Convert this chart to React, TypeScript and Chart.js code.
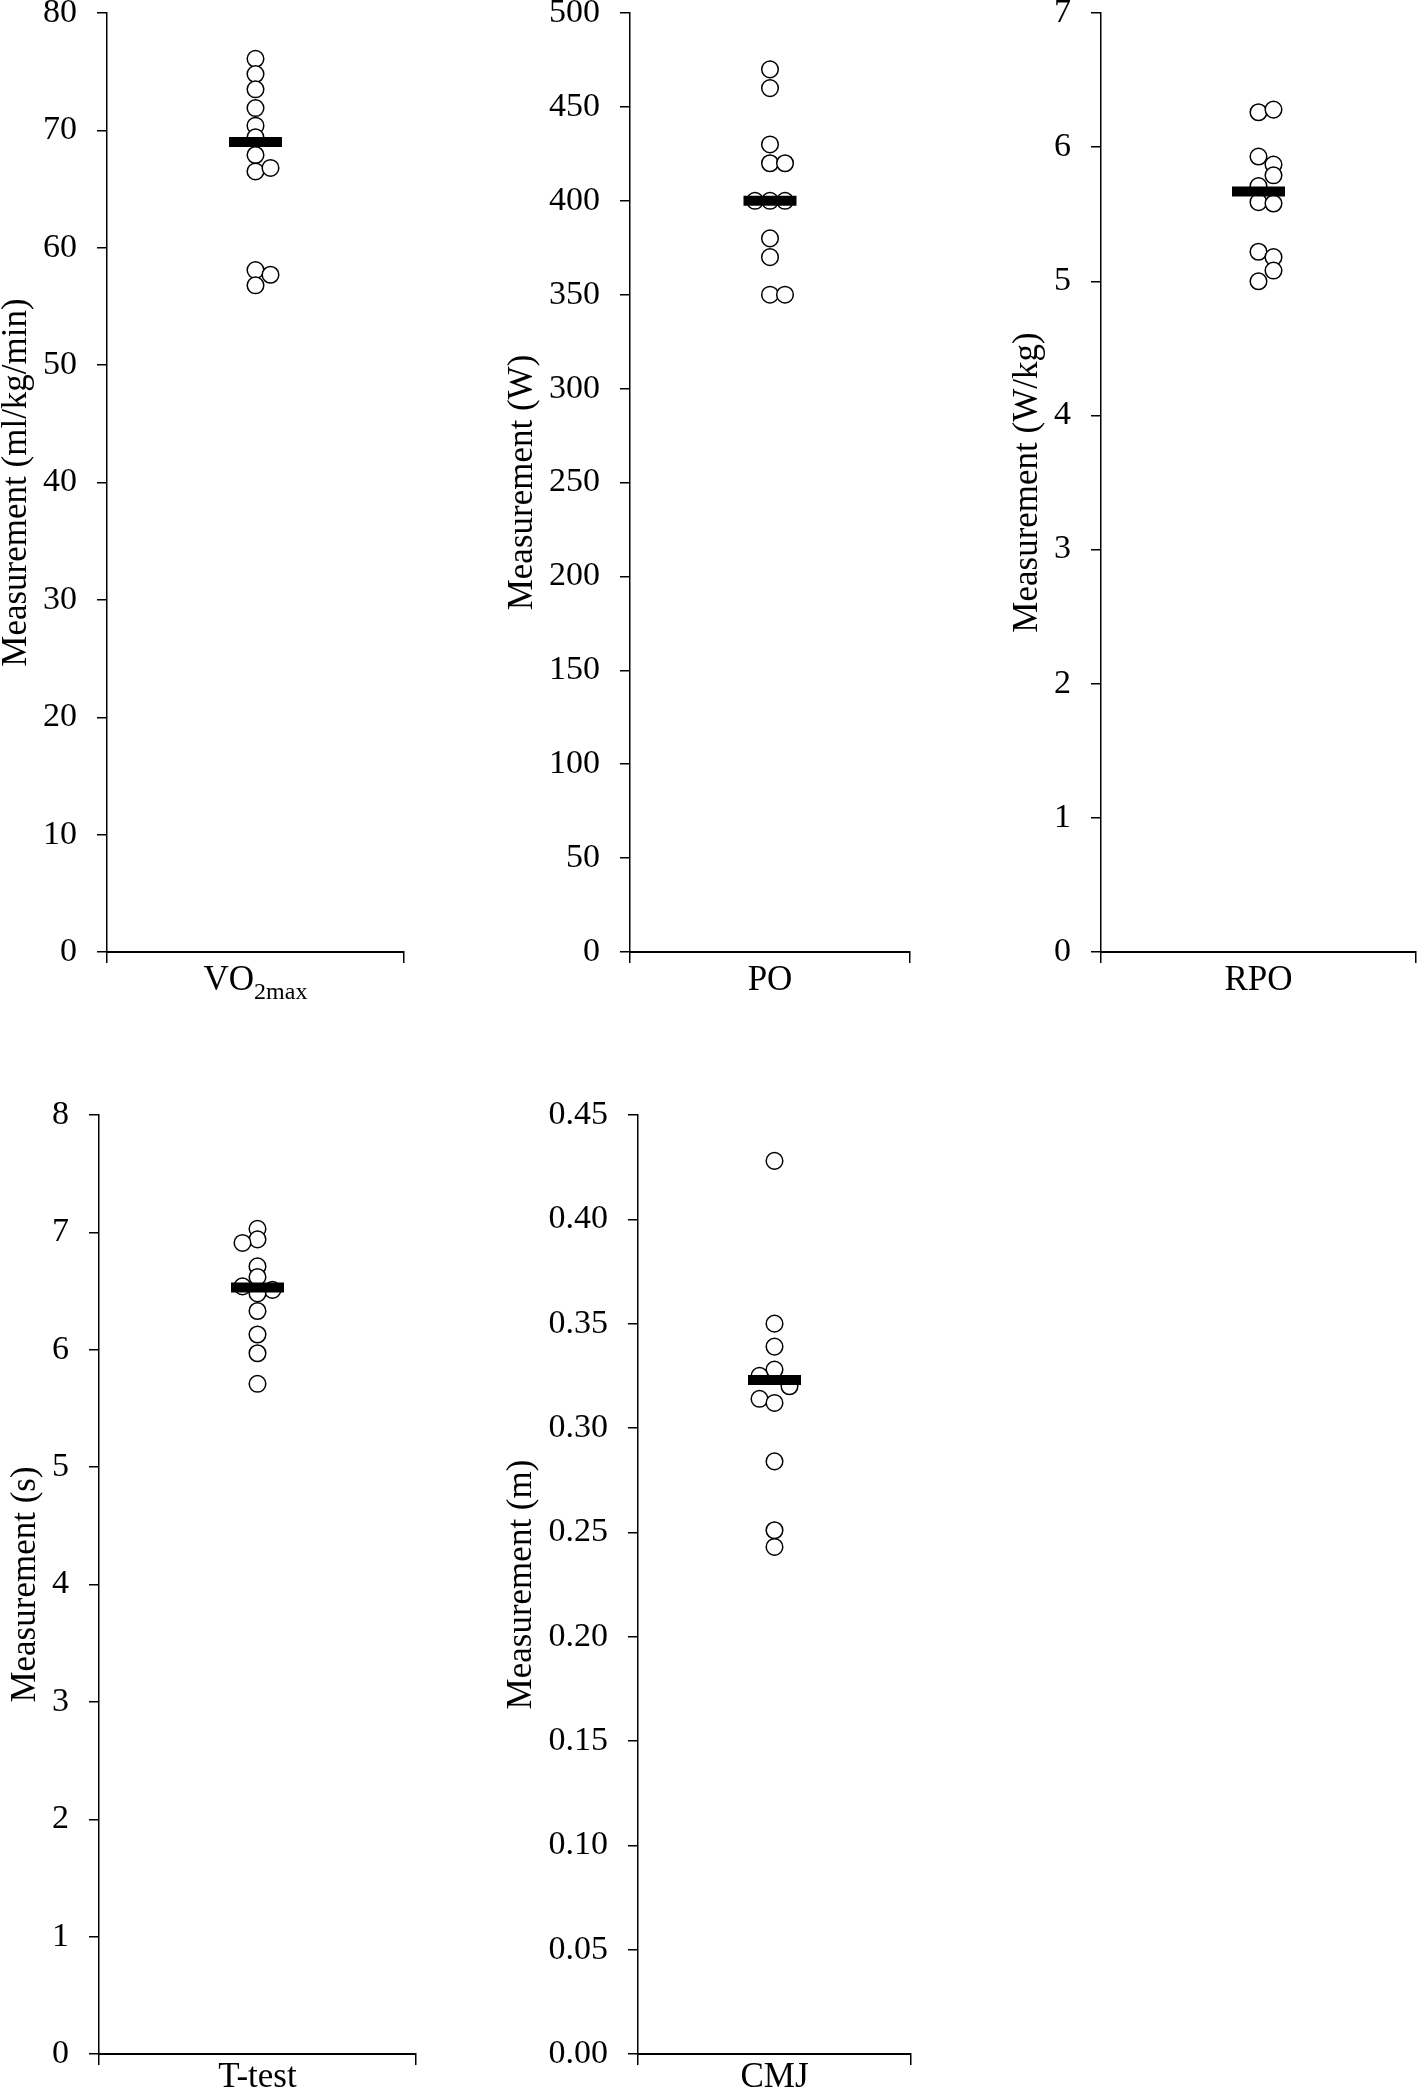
import React, { useEffect, useRef } from 'react';
import { Chart, registerables } from 'chart.js';

Chart.register(...registerables);

// ---------------- data ----------------
const categories = ['VO2max', 'PO', 'RPO', 'T-test', 'CMJ'];
const yTitles = [
  'Measurement (ml/kg/min)',
  'Measurement (W)',
  'Measurement (W/kg)',
  'Measurement (s)',
  'Measurement (m)',
];
const yMaxValues = [80, 500, 7, 8, 0.45];
const yStepValues = [10, 50, 1, 1, 0.05];
const yDecimals = [0, 0, 0, 0, 2];

const vo2Values = [76.1, 74.8, 73.5, 71.9, 70.4, 69.4, 67.9, 66.5, 66.8, 58.1, 57.7, 56.8];
const vo2Cols = [0, 0, 0, 0, 0, 0, 0, 0, 1, 0, 1, 0];
const vo2Mean = 69.0;

const poValues = [470, 460, 430, 420, 420, 400, 400, 400, 380, 370, 350, 350];
const poCols = [0, 0, 0, 0, 1, -1, 0, 1, 0, 0, 0, 1];
const poMean = 400;

const rpoValues = [6.26, 6.28, 5.93, 5.87, 5.79, 5.71, 5.59, 5.58, 5.22, 5.18, 5.08, 5.0];
const rpoCols = [0, 1, 0, 1, 1, 0, 0, 1, 0, 1, 1, 0];
const rpoMean = 5.67;

const tTestValues = [7.03, 6.94, 6.91, 6.71, 6.62, 6.54, 6.51, 6.48, 6.33, 6.13, 5.97, 5.71];
const tTestCols = [0, 0, -1, 0, 0, -1, 1, 0, 0, 0, 0, 0];
const tTestMean = 6.53;

const cmjValues = [0.428, 0.35, 0.339, 0.328, 0.325, 0.32, 0.314, 0.312, 0.284, 0.251, 0.243];
const cmjCols = [0, 0, 0, 0, -1, 1, -1, 0, 0, 0, 0];
const cmjMean = 0.323;

const seriesValues = [vo2Values, poValues, rpoValues, tTestValues, cmjValues];
const seriesCols = [vo2Cols, poCols, rpoCols, tTestCols, cmjCols];
const seriesMeans = [vo2Mean, poMean, rpoMean, tTestMean, cmjMean];

// ---------------- layout / style ----------------
const FONT = '"Liberation Serif", "Times New Roman", serif';
const panelLayout = [
  { axisX: 107, right: 404, top: 13, bottom: 952, titleX: 17, xPad: 0 },
  { axisX: 630, right: 910, top: 13, bottom: 952, titleX: 523, xPad: 0 },
  { axisX: 1101, right: 1416, top: 13, bottom: 952, titleX: 1028, xPad: 0 },
  { axisX: 99, right: 416, top: 1115, bottom: 2054, titleX: 26, xPad: -5 },
  { axisX: 638, right: 911, top: 1115, bottom: 2054, titleX: 522, xPad: -5 },
];
const PAD_TOP = 24;
const PAD_RIGHT = 8;
const X_AXIS_H = 70;
const TITLE_SIZE = 35;
const TICK_SIZE = 34;
const CAT_SIZE = 35;
const JITTER_PX = 15;
const MEAN_HALF_PX = 26.5;

function Panel({ idx }: { idx: number }) {
  const ref = useRef<HTMLCanvasElement | null>(null);
  const L = panelLayout[idx];
  const canvasLeft = L.titleX - 24;
  const canvasTop = L.top - PAD_TOP;
  const width = L.right + PAD_RIGHT - canvasLeft;
  const height = L.bottom + X_AXIS_H - canvasTop;
  const yAxisWidth = L.axisX - canvasLeft;

  useEffect(() => {
    if (!ref.current) return;
    const pxPerUnit = (L.right - L.axisX) / 2;
    const jit = JITTER_PX / pxPerUnit;
    const values = seriesValues[idx];
    const cols = seriesCols[idx];
    const isSub = categories[idx] === 'VO2max';

    const subLabelPlugin = {
      id: 'subLabel',
      afterDraw(chart: any) {
        if (!isSub) return;
        const ctx = chart.ctx;
        const xs = chart.scales.x;
        const cx = xs.getPixelForValue(1);
        const baseY = xs.top + 38;
        ctx.save();
        ctx.fillStyle = '#000';
        ctx.textBaseline = 'alphabetic';
        ctx.textAlign = 'left';
        ctx.font = `${CAT_SIZE}px ${FONT}`;
        const w1 = ctx.measureText('VO').width;
        ctx.font = `24px ${FONT}`;
        const w2 = ctx.measureText('2max').width;
        const x0 = cx - (w1 + w2) / 2;
        ctx.font = `${CAT_SIZE}px ${FONT}`;
        ctx.fillText('VO', x0, baseY);
        ctx.font = `24px ${FONT}`;
        ctx.fillText('2max', x0 + w1, baseY + 9);
        ctx.restore();
      },
    };

    const chart = new Chart(ref.current, {
      type: 'scatter',
      data: {
        datasets: [
          {
            label: 'mean',
            data: [{ x: 1, y: seriesMeans[idx] }],
            pointStyle: 'line',
            pointRadius: MEAN_HALF_PX,
            borderWidth: 10,
            borderColor: '#000',
            backgroundColor: '#000',
            order: 1,
          } as any,
          {
            label: categories[idx],
            data: values.map((v, i) => ({ x: 1 + cols[i] * jit, y: v })),
            pointStyle: 'circle',
            pointRadius: 8.3,
            borderWidth: 1.5,
            borderColor: '#000',
            backgroundColor: '#fff',
            order: 2,
          } as any,
        ],
      },
      options: {
        responsive: false,
        animation: false,
        events: [],
        layout: {
          autoPadding: false,
          padding: { top: PAD_TOP, right: PAD_RIGHT, left: 0, bottom: 0 },
        },
        plugins: { legend: { display: false }, tooltip: { enabled: false } },
        scales: {
          x: {
            type: 'linear',
            min: 0,
            max: 2,
            afterFit: (s: any) => {
              s.height = X_AXIS_H;
              s.paddingLeft = 0;
              s.paddingRight = 0;
            },
            ticks: {
              stepSize: 1,
              autoSkip: false,
              maxRotation: 0,
              color: '#000',
              padding: L.xPad,
              font: { family: FONT, size: CAT_SIZE, lineHeight: 1 },
              callback: (v: any) => (v === 1 && !isSub ? categories[idx] : ''),
            },
            grid: {
              drawOnChartArea: false,
              drawTicks: true,
              tickLength: 11,
              lineWidth: 1.5,
              color: (c: any) => (c.tick && c.tick.value === 1 ? 'rgba(0,0,0,0)' : '#000'),
            },
            border: { display: true, color: '#000', width: 2 },
          },
          y: {
            type: 'linear',
            min: 0,
            max: yMaxValues[idx],
            afterFit: (s: any) => {
              s.width = yAxisWidth;
              s.paddingTop = 0;
              s.paddingBottom = 0;
            },
            ticks: {
              stepSize: yStepValues[idx],
              color: '#000',
              padding: 20,
              font: { family: FONT, size: TICK_SIZE, lineHeight: 1.2 },
              callback: (v: any) => Number(v).toFixed(yDecimals[idx]),
            },
            grid: {
              drawOnChartArea: false,
              drawTicks: true,
              tickLength: 10,
              lineWidth: 1.5,
              color: '#000',
            },
            border: { display: true, color: '#000', width: 1.5 },
            title: {
              display: true,
              text: yTitles[idx],
              color: '#000',
              font: { family: FONT, size: TITLE_SIZE, lineHeight: 1.2 },
              padding: { top: 24 - (TITLE_SIZE * 1.2) / 2, bottom: 0 },
            },
          },
        },
      } as any,
      plugins: [subLabelPlugin],
    });
    return () => chart.destroy();
  }, [idx]);

  return (
    <canvas
      ref={ref}
      width={width}
      height={height}
      style={{ position: 'absolute', left: canvasLeft, top: canvasTop, width, height }}
    />
  );
}

export default function App() {
  return (
    <div
      style={{
        position: 'absolute',
        left: 0,
        top: 0,
        width: 1418,
        height: 2093,
        overflow: 'hidden',
        background: '#fff',
      }}
    >
      {categories.map((_, i) => (
        <Panel key={i} idx={i} />
      ))}
    </div>
  );
}
